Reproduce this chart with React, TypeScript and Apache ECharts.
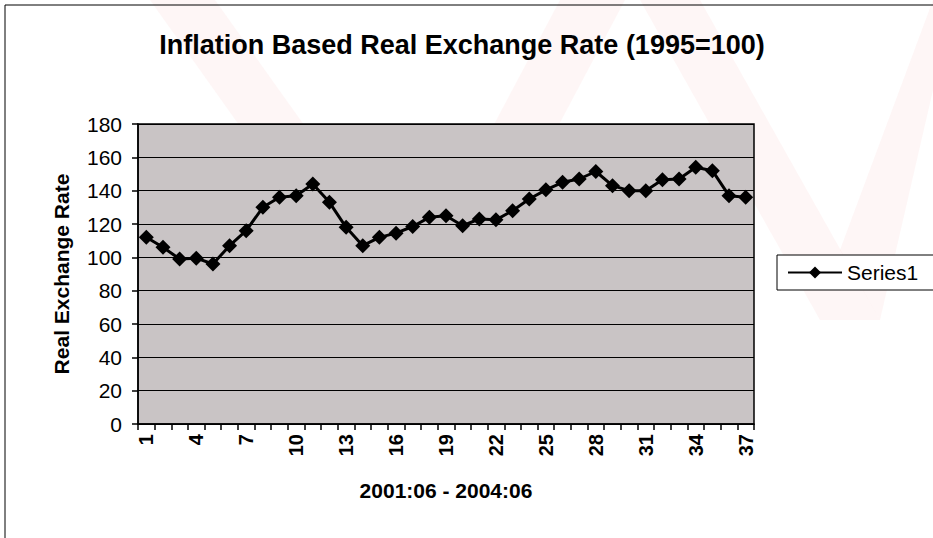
import React, { useEffect, useRef } from "react";
import * as echarts from "echarts";

const categories: string[] = Array.from({ length: 37 }, (_, i) => String(i + 1));
const seriesValues: number[] = [
  112, 106, 99, 99.5, 96, 107, 116, 130, 136, 137, 144, 133, 118, 107, 112, 114.5, 118.5,
  124, 125, 119, 123, 122.5, 128, 135, 140.5, 145, 147, 151.5, 143, 140, 140, 146.5, 147,
  154, 152, 137, 136,
];
const yTicks = { min: 0, max: 180, interval: 20 };

export default function App() {
  const ref = useRef<HTMLDivElement>(null);
  useEffect(() => {
    if (!ref.current) return;
    const chart = echarts.init(ref.current, undefined, { renderer: "svg" });
    const font = "'Liberation Sans', Arial, sans-serif";
    const pink = "rgba(240,150,160,0.09)";
    chart.setOption({
      animation: false,
      backgroundColor: "#ffffff",
      title: {
        text: "Inflation Based Real Exchange Rate (1995=100)",
        left: 457,
        top: 26,
        textAlign: "center",
        textStyle: {
          fontFamily: "'Liberation Sans Narrow', 'Liberation Sans', Arial, sans-serif",
          fontSize: 27,
          fontWeight: "bold",
          color: "#000",
        },
      },
      graphic: [
        {
          type: "polygon",
          z: -10,
          silent: true,
          shape: { points: [[150, 0], [215, 0], [450, 330], [385, 330]] },
          style: { fill: pink },
        },
        {
          type: "polygon",
          z: -10,
          silent: true,
          shape: { points: [[560, 0], [625, 0], [450, 330], [385, 330]] },
          style: { fill: pink },
        },
        {
          type: "polygon",
          z: -10,
          silent: true,
          shape: { points: [[640, 0], [700, 0], [880, 320], [820, 320]] },
          style: { fill: pink },
        },
        {
          type: "polygon",
          z: -10,
          silent: true,
          shape: { points: [[933, 0], [933, 90], [880, 320], [840, 250]] },
          style: { fill: pink },
        },
        {
          type: "rect",
          z: 100,
          silent: true,
          shape: { x: 5, y: 5, width: 1000, height: 600 },
          style: { fill: "none", stroke: "#000", lineWidth: 1 },
        },
      ],
      legend: {
        show: true,
        left: 777,
        top: 255,
        orient: "vertical",
        padding: [7, 20, 7, 10],
        borderColor: "#000",
        borderWidth: 1,
        backgroundColor: "#fff",
        itemWidth: 54,
        itemHeight: 15,
        itemGap: 0,
        textStyle: { fontFamily: font, fontSize: 21, color: "#000" },
        data: ["Series1"],
      },
      grid: { left: 138, right: 179, top: 124, bottom: 114, show: true, backgroundColor: "#c9c4c5", borderColor: "#000", borderWidth: 1.5 },
      xAxis: {
        type: "category",
        data: categories,
        boundaryGap: true,
        name: "2001:06 - 2004:06",
        nameLocation: "middle",
        nameGap: 56,
        nameTextStyle: { fontFamily: font, fontSize: 21, fontWeight: "bold", color: "#000" },
        axisLine: { lineStyle: { color: "#000", width: 1.5 } },
        axisTick: { show: true, alignWithLabel: false, interval: 0, length: 6, lineStyle: { color: "#000", width: 1.5 } },
        axisLabel: {
          interval: 2,
          rotate: 90,
          fontFamily: font,
          fontSize: 20,
          fontWeight: "bold",
          color: "#000",
          margin: 10,
        },
        splitLine: { show: false },
      },
      yAxis: {
        type: "value",
        min: yTicks.min,
        max: yTicks.max,
        interval: yTicks.interval,
        name: "Real Exchange Rate",
        nameLocation: "middle",
        nameGap: 66,
        nameTextStyle: { fontFamily: font, fontSize: 21, fontWeight: "bold", color: "#000" },
        axisLine: { show: true, lineStyle: { color: "#000", width: 1.5 } },
        axisTick: { show: true, length: 6, lineStyle: { color: "#000", width: 1.5 } },
        axisLabel: { fontFamily: font, fontSize: 21, color: "#000", margin: 16 },
        splitLine: { show: true, lineStyle: { color: "#000", width: 1 } },
      },
      series: [
        {
          name: "Series1",
          type: "line",
          data: seriesValues,
          symbol: "diamond",
          symbolSize: 15,
          showAllSymbol: true,
          itemStyle: { color: "#000" },
          lineStyle: { color: "#000", width: 3 },
        },
      ],
    });
    return () => chart.dispose();
  }, []);
  return <div ref={ref} style={{ position: "fixed", left: 0, top: 0, width: 933, height: 538 }} />;
}
